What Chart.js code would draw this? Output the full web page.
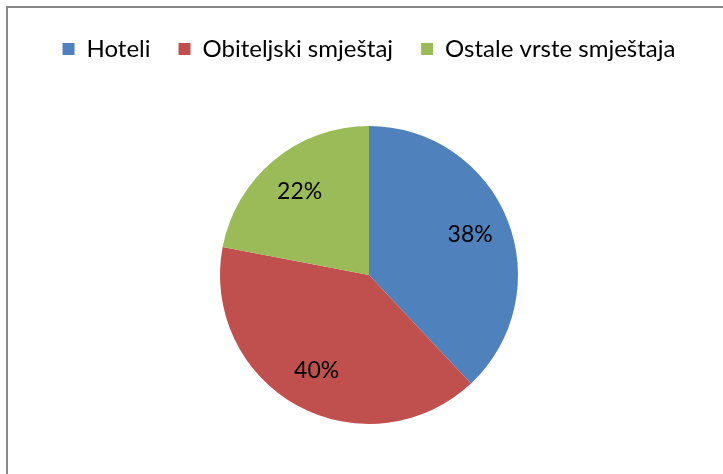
<!DOCTYPE html>
<html lang="hr">
<head>
    <meta charset="UTF-8">
    <title>Smještaj</title>
    <script src="https://cdn.jsdelivr.net/npm/chart.js"></script>
    <style>
        html, body {
            margin: 0;
            padding: 0;
            background: #fff;
            overflow: hidden;
        }
        .frame {
            position: absolute;
            left: 6px;
            top: 6px;
            width: 730px;
            height: 480px;
            border-left: 2px solid #888;
            border-top: 2px solid #888;
        }
    </style>
</head>
<body>
    <div class="frame">
        <canvas id="pieChart"></canvas>
    </div>

    <script>
        // Data
        const categories = ['Hoteli', 'Obiteljski smještaj', 'Ostale vrste smještaja'];
        const shares = [38, 40, 22];
        const sliceColors = ['#4f81bd', '#c0504d', '#9bbb59'];

        const fontFamily = 'Lato, "Open Sans", sans-serif';

        // draws the percentage inside each slice
        const sliceLabels = {
            id: 'sliceLabels',
            afterDatasetsDraw(chart) {
                const ctx = chart.ctx;
                const meta = chart.getDatasetMeta(0);
                const total = shares.reduce((a, b) => a + b, 0);
                ctx.save();
                ctx.font = '23px ' + fontFamily;
                ctx.fillStyle = '#000';
                ctx.textAlign = 'center';
                ctx.textBaseline = 'middle';
                meta.data.forEach((arc, i) => {
                    const p = arc.getProps(['x', 'y', 'startAngle', 'endAngle', 'outerRadius']);
                    const mid = (p.startAngle + p.endAngle) / 2;
                    const r = p.outerRadius * 0.73;
                    const pct = Math.round(shares[i] / total * 100) + '%';
                    ctx.fillText(pct, p.x + Math.cos(mid) * r, p.y + Math.sin(mid) * r);
                });
                ctx.restore();
            }
        };

        const ctx = document.getElementById('pieChart').getContext('2d');
        new Chart(ctx, {
            type: 'pie',
            data: {
                labels: categories,
                datasets: [{
                    data: shares,
                    backgroundColor: sliceColors,
                    borderWidth: 0,
                    radius: 149
                }]
            },
            options: {
                responsive: true,
                maintainAspectRatio: false,
                animation: false,
                layout: {
                    padding: { top: 1, bottom: 9, left: 0, right: 8 }
                },
                plugins: {
                    legend: {
                        position: 'top',
                        labels: {
                            boxWidth: 12,
                            boxHeight: 12,
                            padding: 28,
                            color: '#000',
                            font: { family: fontFamily, size: 24 }
                        }
                    },
                    tooltip: { enabled: false }
                }
            },
            plugins: [sliceLabels]
        });
    </script>
</body>
</html>
